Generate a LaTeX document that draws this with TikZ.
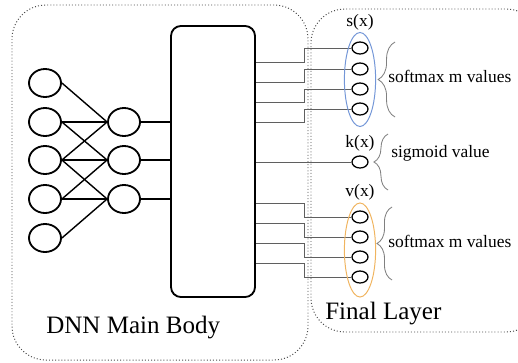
\documentclass[tikz,border=0pt]{standalone}
\usepackage{fontspec}
\setmainfont{Liberation Serif}
\usetikzlibrary{shapes.geometric,decorations.pathreplacing,positioning}

\definecolor{sblue}{RGB}{115,150,215}
\definecolor{vorange}{RGB}{240,180,95}
\definecolor{wiregray}{RGB}{95,95,95}

\tikzset{
	neuron/.style={ellipse, draw, line width=1.3pt, minimum width=0.8cm, minimum height=0.7cm, inner sep=0pt},
	outunit/.style={ellipse, draw, line width=0.9pt, minimum width=0.4cm, minimum height=0.3cm, inner sep=0pt},
	group/.style={ellipse, line width=0.7pt, minimum width=0.78cm, minimum height=2.35cm, inner sep=0pt},
	body/.style={draw, line width=1.3pt, rounded corners=0.25cm, minimum width=2.1cm, minimum height=6.775cm, inner sep=0pt},
	frame/.style={draw=black!70, line width=0.7pt, dash pattern=on 0.7pt off 1.5pt, rounded corners=0.85cm},
	wire/.style={draw=wiregray, line width=0.6pt},
	link/.style={line width=1pt},
	curly/.style={draw=gray, line width=0.6pt, decorate, decoration={brace, amplitude=#1}},
	small/.style={font=\fontsize{12.4}{14}\selectfont, inner sep=0pt},
	big/.style={font=\fontsize{17.8}{20}\selectfont, inner sep=0pt}
}

\begin{document}
\begin{tikzpicture}[x=0.025cm, y=-0.025cm]
	\useasboundingbox (0,0) rectangle (518,362);

%Dotted frames
\draw[frame] (12,5) rectangle (308,360);
\draw[frame] (311,9) rectangle (540,332);

%Input and hidden layer
\foreach \i/\y in {1/83,2/122,3/160,4/199,5/238}
	\node[neuron] (in\i) at (45,\y) {};
\foreach \i/\y in {1/122,2/160,3/199}
	\node[neuron] (h\i) at (124,\y) {};

%Main body block
\node[body] (body) at (213,161.5) {};

\foreach \a/\b in {1/1,2/1,2/2,3/1,3/2,3/3,4/2,4/3,5/3}
	\draw[link] (in\a.east) -- (h\b.west);
\foreach \b in {1,2,3}
	\draw[link] (h\b) -- (h\b -| body.west);

%Output units
\foreach \i/\y in {1/48,2/69,3/89,4/109}
	\node[outunit] (s\i) at (360,\y) {};
\node[outunit] (k) at (360,162) {};
\foreach \i/\y in {1/217,2/237,3/257,4/277}
	\node[outunit] (v\i) at (360,\y) {};

%Wires from the body to the outputs
\foreach \i/\y in {1/62,2/82,3/102,4/122}
	\draw[wire] (body.east |- 0,\y) -- ++(48,0) |- (s\i);
\draw[wire] (k -| body.east) -- (k);
\foreach \i/\y in {1/203,2/223,3/243,4/263}
	\draw[wire] (body.east |- 0,\y) -- ++(48,0) |- (v\i);

%Groups
\node[group, draw=sblue] (sx) at (360,79.5) {};
\node[group, draw=vorange] (vx) at (360,250) {};
\node[small] (slabel) at (360,22) {s(x)};
\node[small] (klabel) at (360,143) {k(x)};
\node[small] (vlabel) at (360,192) {v(x)};

%Braces
\draw[curly=12pt] (395,117) -- (395,42);
\draw[curly=10pt] (388,190) -- (388,134);
\draw[curly=10.7pt] (392,280) -- (392,207);
\node[small, anchor=base west] (smax) at (388,82) {softmax m values};
\node[small, anchor=base west] (sig) at (391,157) {sigmoid value};
\node[small, anchor=base west] (vmax) at (388,247) {softmax m values};

%Titles
\node[big, anchor=base west] (dnn) at (46,333) {DNN Main Body};
\node[big, anchor=base west] (final) at (325,319) {Final Layer};

\end{tikzpicture}
\end{document}
